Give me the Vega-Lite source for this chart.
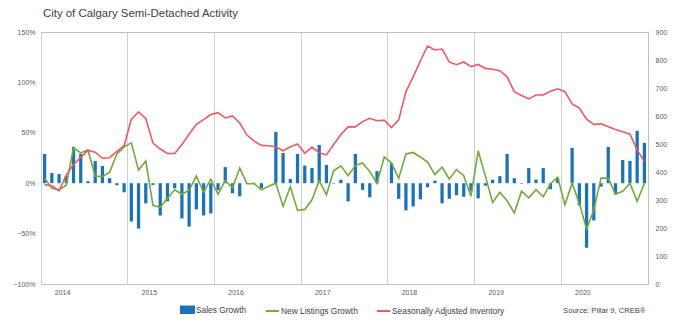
{
  "$schema": "https://vega.github.io/schema/vega-lite/v6.json",
  "width": 607,
  "height": 252,
  "autosize": {"type": "none"},
  "padding": {"left": 41, "top": 32, "right": 35, "bottom": 40},
  "background": "white",
  "title": {"text": "City of Calgary Semi-Detached Activity", "anchor": "start", "frame": "group", "font": "Liberation Sans", "fontSize": 11.4, "fontWeight": "normal", "color": "#404040", "offset": 9, "dx": 2},
  "config": {"view": {"stroke": "#bfbfbf", "strokeWidth": 1}, "font": "Liberation Sans"},
  "data": {"values": [
    {"month": "2014-01", "sales": 0.29, "listings": 0.05, "inventory": 355},
    {"month": "2014-02", "sales": 0.10, "listings": -0.05, "inventory": 351},
    {"month": "2014-03", "sales": 0.09, "listings": -0.065, "inventory": 333},
    {"month": "2014-04", "sales": 0.07, "listings": -0.02, "inventory": 390},
    {"month": "2014-05", "sales": 0.36, "listings": 0.35, "inventory": 427},
    {"month": "2014-06", "sales": 0.29, "listings": 0.30, "inventory": 452},
    {"month": "2014-07", "sales": 0.02, "listings": 0.33, "inventory": 477},
    {"month": "2014-08", "sales": 0.22, "listings": 0.07, "inventory": 471},
    {"month": "2014-09", "sales": 0.17, "listings": 0.065, "inventory": 449},
    {"month": "2014-10", "sales": 0.05, "listings": 0.11, "inventory": 451},
    {"month": "2014-11", "sales": -0.02, "listings": 0.29, "inventory": 474},
    {"month": "2014-12", "sales": -0.09, "listings": 0.36, "inventory": 494},
    {"month": "2015-01", "sales": -0.38, "listings": 0.40, "inventory": 588},
    {"month": "2015-02", "sales": -0.45, "listings": 0.13, "inventory": 615},
    {"month": "2015-03", "sales": -0.20, "listings": 0.22, "inventory": 591},
    {"month": "2015-04", "sales": -0.017, "listings": -0.22, "inventory": 503},
    {"month": "2015-05", "sales": -0.32, "listings": -0.24, "inventory": 482},
    {"month": "2015-06", "sales": -0.18, "listings": -0.15, "inventory": 466},
    {"month": "2015-07", "sales": -0.05, "listings": -0.066, "inventory": 466},
    {"month": "2015-08", "sales": -0.35, "listings": -0.11, "inventory": 498},
    {"month": "2015-09", "sales": -0.43, "listings": -0.07, "inventory": 535},
    {"month": "2015-10", "sales": -0.26, "listings": 0.07, "inventory": 570},
    {"month": "2015-11", "sales": -0.32, "listings": -0.09, "inventory": 587},
    {"month": "2015-12", "sales": -0.30, "listings": 0.04, "inventory": 605},
    {"month": "2016-01", "sales": -0.07, "listings": -0.11, "inventory": 612},
    {"month": "2016-02", "sales": 0.16, "listings": 0.026, "inventory": 593},
    {"month": "2016-03", "sales": -0.10, "listings": -0.045, "inventory": 600},
    {"month": "2016-04", "sales": -0.13, "listings": 0.15, "inventory": 575},
    {"month": "2016-05", "sales": 0.0, "listings": -0.005, "inventory": 532},
    {"month": "2016-06", "sales": 0.005, "listings": -0.005, "inventory": 510},
    {"month": "2016-07", "sales": -0.05, "listings": -0.066, "inventory": 495},
    {"month": "2016-08", "sales": 0.0, "listings": -0.03, "inventory": 494},
    {"month": "2016-09", "sales": 0.51, "listings": 0.0, "inventory": 490},
    {"month": "2016-10", "sales": 0.30, "listings": -0.23, "inventory": 476},
    {"month": "2016-11", "sales": 0.043, "listings": -0.035, "inventory": 490},
    {"month": "2016-12", "sales": 0.29, "listings": -0.27, "inventory": 500},
    {"month": "2017-01", "sales": 0.175, "listings": -0.26, "inventory": 467},
    {"month": "2017-02", "sales": 0.15, "listings": -0.165, "inventory": 489},
    {"month": "2017-03", "sales": 0.38, "listings": 0.025, "inventory": 469},
    {"month": "2017-04", "sales": 0.18, "listings": -0.115, "inventory": 461},
    {"month": "2017-05", "sales": -0.005, "listings": 0.123, "inventory": 498},
    {"month": "2017-06", "sales": 0.034, "listings": 0.173, "inventory": 534},
    {"month": "2017-07", "sales": -0.18, "listings": 0.075, "inventory": 561},
    {"month": "2017-08", "sales": 0.29, "listings": 0.175, "inventory": 561},
    {"month": "2017-09", "sales": -0.066, "listings": 0.20, "inventory": 580},
    {"month": "2017-10", "sales": -0.14, "listings": 0.115, "inventory": 592},
    {"month": "2017-11", "sales": 0.12, "listings": -0.003, "inventory": 583},
    {"month": "2017-12", "sales": 0.0, "listings": 0.26, "inventory": 585},
    {"month": "2018-01", "sales": 0.20, "listings": 0.20, "inventory": 559},
    {"month": "2018-02", "sales": -0.155, "listings": 0.048, "inventory": 586},
    {"month": "2018-03", "sales": -0.27, "listings": 0.29, "inventory": 687},
    {"month": "2018-04", "sales": -0.23, "listings": 0.305, "inventory": 740},
    {"month": "2018-05", "sales": -0.16, "listings": 0.26, "inventory": 797},
    {"month": "2018-06", "sales": -0.04, "listings": 0.21, "inventory": 850},
    {"month": "2018-07", "sales": 0.025, "listings": 0.085, "inventory": 836},
    {"month": "2018-08", "sales": -0.20, "listings": 0.16, "inventory": 839},
    {"month": "2018-09", "sales": -0.155, "listings": 0.04, "inventory": 793},
    {"month": "2018-10", "sales": -0.12, "listings": 0.135, "inventory": 783},
    {"month": "2018-11", "sales": -0.135, "listings": 0.075, "inventory": 793},
    {"month": "2018-12", "sales": -0.08, "listings": -0.13, "inventory": 776},
    {"month": "2019-01", "sales": -0.15, "listings": 0.32, "inventory": 784},
    {"month": "2019-02", "sales": -0.025, "listings": 0.07, "inventory": 770},
    {"month": "2019-03", "sales": 0.035, "listings": -0.19, "inventory": 767},
    {"month": "2019-04", "sales": 0.07, "listings": -0.09, "inventory": 762},
    {"month": "2019-05", "sales": 0.29, "listings": -0.175, "inventory": 740},
    {"month": "2019-06", "sales": 0.05, "listings": -0.295, "inventory": 687},
    {"month": "2019-07", "sales": -0.005, "listings": -0.08, "inventory": 673},
    {"month": "2019-08", "sales": 0.15, "listings": -0.145, "inventory": 661},
    {"month": "2019-09", "sales": 0.036, "listings": -0.065, "inventory": 675},
    {"month": "2019-10", "sales": 0.15, "listings": -0.135, "inventory": 675},
    {"month": "2019-11", "sales": -0.06, "listings": -0.005, "inventory": 688},
    {"month": "2019-12", "sales": 0.05, "listings": 0.06, "inventory": 697},
    {"month": "2020-01", "sales": 0.0, "listings": -0.215, "inventory": 687},
    {"month": "2020-02", "sales": 0.35, "listings": 0.0, "inventory": 643},
    {"month": "2020-03", "sales": -0.22, "listings": -0.20, "inventory": 628},
    {"month": "2020-04", "sales": -0.64, "listings": -0.455, "inventory": 589},
    {"month": "2020-05", "sales": -0.37, "listings": -0.265, "inventory": 570},
    {"month": "2020-06", "sales": -0.035, "listings": 0.05, "inventory": 572},
    {"month": "2020-07", "sales": 0.36, "listings": 0.05, "inventory": 562},
    {"month": "2020-08", "sales": -0.11, "listings": -0.11, "inventory": 552},
    {"month": "2020-09", "sales": 0.23, "listings": -0.08, "inventory": 544},
    {"month": "2020-10", "sales": 0.22, "listings": 0.0, "inventory": 535},
    {"month": "2020-11", "sales": 0.52, "listings": -0.18, "inventory": 479},
    {"month": "2020-12", "sales": 0.40, "listings": 0.0, "inventory": 437}
  ]},
  "encoding": {
    "x": {
      "field": "month", "type": "ordinal", "sort": null,
      "scale": {"paddingInner": 0, "paddingOuter": 0},
      "axis": {
        "values": ["2014-01", "2015-01", "2016-01", "2017-01", "2018-01", "2019-01", "2020-01"],
        "bandPosition": 0,
        "labelExpr": "substring(datum.value, 0, 4)",
        "labelOffset": 18,
        "labelAngle": 0,
        "labelFontSize": 7,
        "labelColor": "#595959",
        "labelPadding": 4,
        "grid": true,
        "gridColor": "#d0d0d0",
        "gridWidth": 1,
        "ticks": false,
        "domain": false,
        "title": "Source: Pillar 9, CREB®",
        "titleFontSize": 7.6,
        "titleFontWeight": "normal",
        "titleColor": "#404040",
        "titleAnchor": "end",
        "titleAlign": "right",
        "titleBaseline": "middle",
        "titleX": 604,
        "titleY": 26
      }
    }
  },
  "layer": [
    {
      "encoding": {
        "y": {"type": "quantitative"}
      },
      "layer": [
        {
          "mark": {"type": "rule", "color": "#9fc5e8", "strokeWidth": 1},
          "encoding": {"y": {"datum": 0, "type": "quantitative"}}
        },
        {
          "mark": {"type": "bar", "width": {"band": 0.45}},
          "encoding": {
            "y": {
              "field": "sales", "type": "quantitative",
              "scale": {"domain": [-1, 1.5], "nice": false},
              "axis": {
                "orient": "left",
                "values": [-1, -0.5, 0, 0.5, 1, 1.5],
                "format": ".0%",
                "grid": false,
                "ticks": false,
                "domain": false,
                "labelFontSize": 7,
                "labelColor": "#595959",
                "labelPadding": 6,
                "title": null
              }
            },
            "color": {
              "datum": "Sales Growth",
              "scale": {
                "domain": ["Sales Growth", "New Listings Growth", "Seasonally Adjusted Inventory"],
                "range": ["#1b72b8", "#72a93c", "#ee5a62"]
              },
              "legend": {
                "orient": "none",
                "legendX": 139,
                "legendY": 270,
                "direction": "horizontal",
                "title": null,
                "labelFontSize": 8.4,
                "labelColor": "#404040",
                "labelOffset": 1,
                "columnPadding": 15,
                "symbolSize": 169,
                "symbolStrokeWidth": 2,
                "encode": {
                  "symbols": {
                    "update": {
                      "shape": {"signal": "datum.value === 'Sales Growth' ? 'M-1,-0.5H1V0.5H-1Z' : 'stroke'"},
                      "fill": {"signal": "datum.value === 'Sales Growth' ? '#1b72b8' : 'transparent'"},
                      "stroke": {"signal": "datum.value === 'Sales Growth' ? 'transparent' : (datum.value === 'New Listings Growth' ? '#72a93c' : '#ee5a62')"},
                      "strokeWidth": {"value": 2},
                      "opacity": {"value": 1}
                    }
                  }
                }
              }
            }
          }
        },
        {
          "mark": {"type": "line", "strokeWidth": 1.6},
          "encoding": {
            "y": {"field": "listings", "type": "quantitative"},
            "color": {"datum": "New Listings Growth"}
          }
        }
      ]
    },
    {
      "mark": {"type": "line", "strokeWidth": 1.6},
      "encoding": {
        "y": {
          "field": "inventory", "type": "quantitative",
          "scale": {"domain": [0, 900], "nice": false},
          "axis": {
            "orient": "right",
            "values": [0, 100, 200, 300, 400, 500, 600, 700, 800, 900],
            "grid": false,
            "ticks": false,
            "domain": false,
            "labelFontSize": 7,
            "labelColor": "#595959",
            "labelPadding": 7,
            "title": null
          }
        },
        "color": {"datum": "Seasonally Adjusted Inventory"}
      }
    }
  ],
  "resolve": {"scale": {"y": "independent"}}
}
